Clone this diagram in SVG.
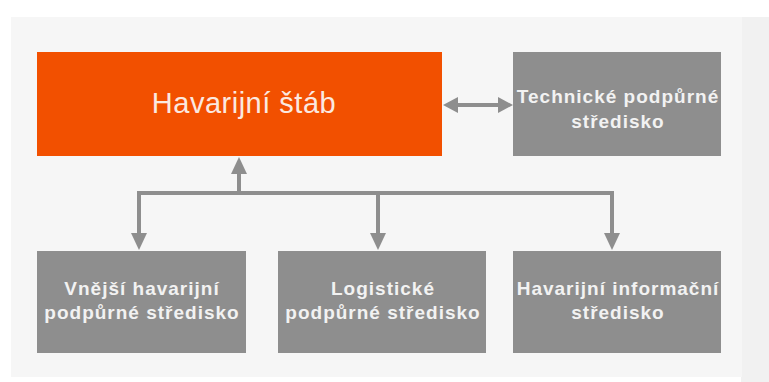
<svg xmlns="http://www.w3.org/2000/svg" width="769" height="382" viewBox="0 0 769 382">
<style>
.box{fill:#8e8e8e}
.t{font-family:"Liberation Sans",Arial,sans-serif;font-weight:bold;font-size:19px;letter-spacing:1px;fill:#f2f2f2;text-anchor:middle}
.c{stroke:#8e8e8e;stroke-width:4;fill:none}
.h{fill:#8e8e8e}
</style>
<rect x="0" y="0" width="769" height="382" fill="#ffffff"/>
<rect x="741" y="17" width="28" height="365" fill="#f1f1f1"/>
<rect x="11" y="17" width="731" height="360" fill="#f6f6f6"/>
<g id="stab">
<rect x="37" y="52" width="405" height="104" fill="#f25000"/>
<text x="244" y="113" font-family="Liberation Sans, Arial, sans-serif" font-size="29" letter-spacing="0.5" fill="#fbe9e0" text-anchor="middle">Havarijní štáb</text>
</g>
<g id="technicke">
<rect class="box" x="513" y="52" width="208" height="104"/>
<text class="t" x="618" y="103">Technické podpůrné</text>
<text class="t" x="618" y="128">středisko</text>
</g>
<g id="vnejsi">
<rect class="box" x="37" y="251" width="209" height="102"/>
<text class="t" x="142" y="295">Vnější havarijní</text>
<text class="t" x="142" y="319">podpůrné středisko</text>
</g>
<g id="logisticke">
<rect class="box" x="278" y="251" width="208" height="102"/>
<text class="t" x="383" y="295">Logistické</text>
<text class="t" x="383" y="319">podpůrné středisko</text>
</g>
<g id="informacni">
<rect class="box" x="513" y="251" width="208" height="102"/>
<text class="t" x="618" y="295">Havarijní informační</text>
<text class="t" x="618" y="319">středisko</text>
</g>
<g id="connectors">
<line class="c" x1="456" y1="105" x2="499" y2="105"/>
<polygon class="h" points="443,105 458,97 458,113"/>
<polygon class="h" points="513,105 498,97 498,113"/>
<line class="c" x1="239" y1="172" x2="239" y2="193"/>
<polygon class="h" points="239,157 231,174 247,174"/>
<polyline class="c" points="139,235 139,193 612,193 612,235"/>
<line class="c" x1="378" y1="193" x2="378" y2="235"/>
<polygon class="h" points="139,250 131,233 147,233"/>
<polygon class="h" points="378,250 370,233 386,233"/>
<polygon class="h" points="612,250 604,233 620,233"/>
</g>
</svg>
